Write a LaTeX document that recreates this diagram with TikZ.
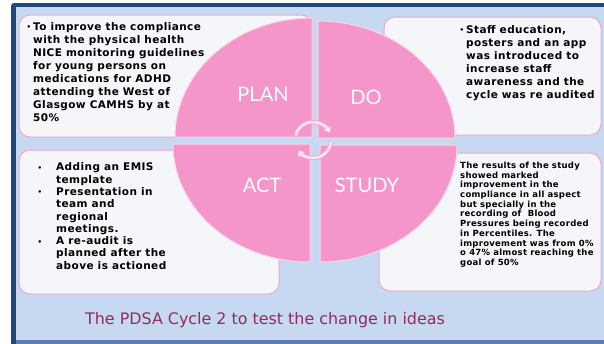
\documentclass[tikz,border=0pt]{standalone}
\usepackage{fontspec}
\setmainfont{DejaVu Sans}
\newfontfamily\labelfont{Lato}
\newfontfamily\titlefont{DejaVu Sans}
\newfontfamily\bodyfont{DejaVu Sans}[LetterSpace=4]
\usetikzlibrary{arrows.meta}
\definecolor{bglight}{HTML}{C6D9F0}
\definecolor{framedark}{HTML}{1F497D}
\definecolor{framemid}{HTML}{5B7DB5}
\definecolor{quadpink}{HTML}{F496C9}
\definecolor{quadedge}{HTML}{FAD6E8}
\definecolor{boxfill}{HTML}{F5F6FA}
\definecolor{boxedge}{HTML}{F0A6CF}
\definecolor{titlecol}{HTML}{922B5E}
\definecolor{arrowin}{HTML}{FCE6F1}
\definecolor{arrowout}{HTML}{F2A4CC}
\newcommand{\smallbul}{\raisebox{0.6pt}{\fontsize{7}{7}\selectfont•}}
\tikzset{
  textbox/.style={fill=boxfill, draw=boxedge, line width=1pt, rounded corners=11pt},
  quad/.style={fill=quadpink, draw=quadedge, line width=1pt},
  qlabel/.style={text=white, font=\labelfont\fontsize{20}{24}\selectfont, inner sep=0pt},
  body/.style={anchor=north west, inner sep=0pt, text=black},
  titletext/.style={text=titlecol, font=\titlefont\fontsize{15.9}{19}\selectfont, inner sep=0pt},
  cycout/.style={draw=arrowout, line width=4.5pt, -{Triangle[length=7pt,width=11pt]}},
  cycin/.style={draw=arrowin, line width=2.6pt, -{Triangle[length=4.8pt,width=7.6pt]}}
}
\begin{document}
\begin{tikzpicture}[x=1pt,y=-1pt]
\useasboundingbox (0,0) rectangle (604,343);
\clip (0,0) rectangle (604,343);
\fill[white] (0,0) rectangle (604,343);
\fill[framedark, rounded corners=3pt] (11,3) rectangle (630,355);
\fill[bglight] (16,7) rectangle (630,340);
\fill[framemid] (16,340) rectangle (630,355);
% text boxes
\draw[textbox] (19,15) rectangle (312,137);
\draw[textbox] (384,17) rectangle (601,135);
\draw[textbox] (19,150) rectangle (279,294);
\draw[textbox] (379,153) rectangle (601,291);
% quadrants
\draw[quad] (312,137) -- (175,137) arc[start angle=180, end angle=90, x radius=137pt, y radius=119pt] -- cycle;
\draw[quad] (318,138) -- (318,21) arc[start angle=90, end angle=0, x radius=137pt, y radius=117pt] -- cycle;
\draw[quad] (310,144) -- (310,262) arc[start angle=-90, end angle=-180, x radius=137pt, y radius=118pt] -- cycle;
\draw[quad] (320,145) -- (457,145) arc[start angle=0, end angle=-90, x radius=137pt, y radius=117pt] -- cycle;
% cycle arrows
\coordinate (cyc) at (313,140);
\draw[cycout] ([shift={(165:18pt)}]cyc) arc[start angle=165, end angle=24, radius=18pt];
\draw[cycin] ([shift={(165:18pt)}]cyc) arc[start angle=165, end angle=24, radius=18pt];
\draw[cycout] ([shift={(-8:18pt)}]cyc) arc[start angle=-8, end angle=-144, radius=18pt];
\draw[cycin] ([shift={(-8:18pt)}]cyc) arc[start angle=-8, end angle=-144, radius=18pt];
% labels
\node[qlabel] (plan) at (263,94) {PLAN};
\node[qlabel] (do) at (366,97) {DO};
\node[qlabel] (act) at (262,185) {ACT};
\node[qlabel] (study) at (367,185) {STUDY};
% texts
\node[body] (plantext) at (26.5,21) {\bodyfont\bfseries\fontsize{10.5}{13}\selectfont
\begin{tabular}{@{}p{6.5pt}@{}l@{}}
\smallbul&To improve the compliance\\
&with the physical health\\
&NICE monitoring guidelines\\
&for young persons on\\
&medications for ADHD\\
&attending the West of\\
&Glasgow CAMHS by at\\
&50\%
\end{tabular}};
\node[body] (dotext) at (459.5,24) {\bodyfont\bfseries\fontsize{10.5}{13}\selectfont
\begin{tabular}{@{}p{6.5pt}@{}l@{}}
\smallbul&Staff education,\\
&posters and an app\\
&was introduced to\\
&increase staff\\
&awareness and the\\
&cycle was re audited
\end{tabular}};
\node[body] (acttext) at (37.5,162) {\bodyfont\bfseries\fontsize{10.5}{12.3}\selectfont
\begin{tabular}{@{}p{18.5pt}@{}l@{}}
\smallbul&Adding an EMIS\\
&template\\
\smallbul&Presentation in\\
&team and\\
&regional\\
&meetings.\\
\smallbul&A re-audit is\\
&planned after the\\
&above is actioned
\end{tabular}};
\node[body] (studytext) at (460,161.5) {\bodyfont\bfseries\fontsize{8.5}{9.7}\selectfont\addfontfeatures{LetterSpace=3}
\begin{tabular}{@{}l@{}}
The results of the study\\
showed marked\\
improvement in the\\
compliance in all aspect\\
but specially in the\\
recording of~ Blood\\
Pressures being recorded\\
in Percentiles. The\\
improvement was from 0\%\\
o 47\% almost reaching the\\
goal of 50\%
\end{tabular}};
\node[titletext] (title) at (265,320) {The PDSA Cycle 2 to test the change in ideas};
\end{tikzpicture}
\end{document}
